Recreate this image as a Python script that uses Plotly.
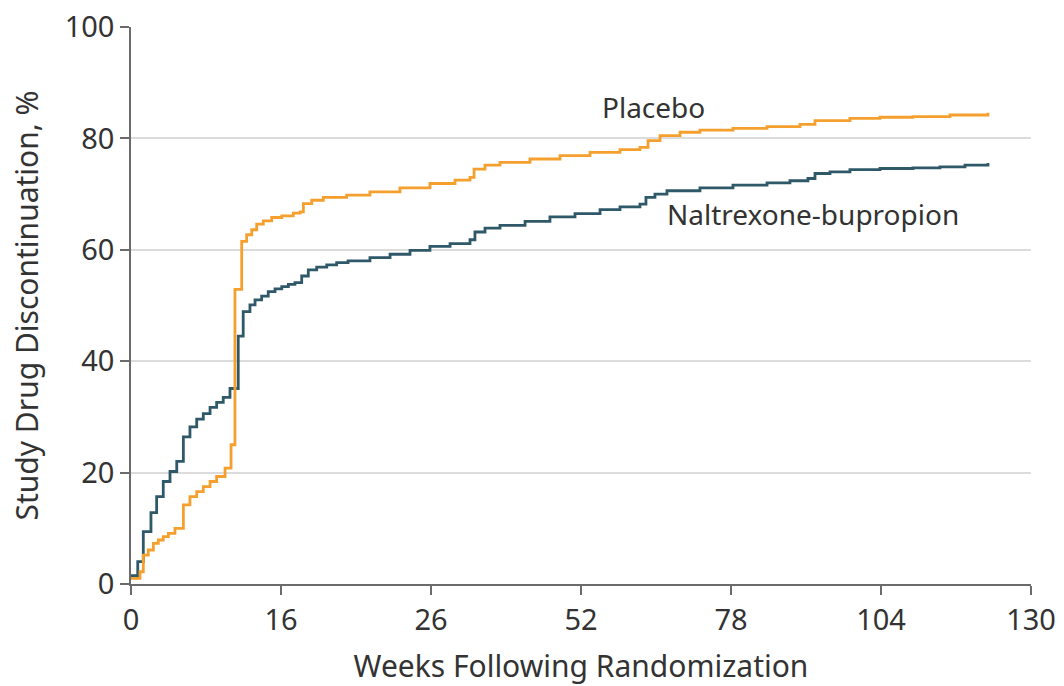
import plotly.graph_objects as go

# x positions are in axis-position units (tick index 0..6, evenly spaced ticks)
tick_pos = [0, 1, 2, 3, 4, 5, 6]
tick_labels = ["0", "16", "26", "52", "78", "104", "130"]
y_ticks = [0, 20, 40, 60, 80, 100]

nb_x = [0.0, 0.045, 0.082, 0.133, 0.171, 0.215, 0.26, 0.305, 0.349, 0.393, 0.438, 0.482,
        0.527, 0.571, 0.615, 0.66, 0.715, 0.748, 0.793, 0.827, 0.871, 0.915, 0.96, 1.005,
        1.049, 1.093, 1.138, 1.182, 1.238, 1.305, 1.371, 1.447, 1.593, 1.727, 1.86, 1.993,
        2.127, 2.26, 2.293, 2.36, 2.46, 2.627, 2.793, 2.96, 3.127, 3.26, 3.393, 3.433,
        3.493, 3.573, 3.793, 4.013, 4.24, 4.393, 4.513, 4.56, 4.66, 4.793, 4.993, 5.213,
        5.393, 5.56, 5.713]
nb_y = [1.5, 4.0, 9.4, 12.8, 15.7, 18.4, 20.2, 22.0, 26.4, 28.2, 29.6, 30.6,
        31.7, 32.6, 33.5, 35.1, 44.5, 48.9, 50.1, 51.0, 51.7, 52.5, 53.0, 53.4,
        53.8, 54.1, 55.3, 56.4, 56.9, 57.3, 57.7, 58.0, 58.6, 59.2, 59.9, 60.6,
        61.1, 61.8, 63.2, 63.9, 64.4, 65.1, 65.9, 66.5, 67.2, 67.7, 68.2, 69.4,
        70.0, 70.6, 71.1, 71.6, 72.0, 72.4, 72.8, 73.7, 74.0, 74.4, 74.6, 74.7,
        74.9, 75.2, 75.6]

pl_x = [0.0, 0.06, 0.082, 0.115, 0.149, 0.182, 0.215, 0.249, 0.293, 0.349, 0.393, 0.438,
        0.482, 0.527, 0.571, 0.627, 0.667, 0.693, 0.738, 0.771, 0.805, 0.838, 0.882, 0.938,
        1.005, 1.082, 1.127, 1.149, 1.205, 1.282, 1.438, 1.593, 1.793, 1.993, 2.16, 2.26,
        2.287, 2.36, 2.46, 2.66, 2.86, 3.06, 3.26, 3.393, 3.447, 3.527, 3.66, 3.793,
        4.013, 4.24, 4.46, 4.56, 4.793, 4.993, 5.213, 5.46, 5.713]
pl_y = [1.0, 2.2, 5.2, 6.1, 7.3, 7.9, 8.5, 9.1, 10.0, 14.2, 15.7, 16.6,
        17.5, 18.4, 19.3, 20.8, 25.0, 52.9, 61.5, 62.7, 63.6, 64.6, 65.2, 65.8,
        66.1, 66.6, 66.8, 68.3, 68.9, 69.4, 69.8, 70.4, 71.1, 71.9, 72.5, 73.0,
        74.5, 75.2, 75.7, 76.3, 76.9, 77.5, 78.0, 78.4, 79.6, 80.5, 81.1, 81.5,
        81.8, 82.1, 82.5, 83.2, 83.6, 83.8, 83.9, 84.2, 84.6]

ORANGE = "#F5A02E"
TEAL = "#2F5869"
FONT = "Noto Sans"
TXT = "#333333"

fig = go.Figure()
fig.add_trace(go.Scatter(x=nb_x, y=nb_y, mode="lines", line=dict(color=TEAL, width=2.8, shape="hv"),
                         name="Naltrexone-bupropion", showlegend=False))
fig.add_trace(go.Scatter(x=pl_x, y=pl_y, mode="lines", line=dict(color=ORANGE, width=2.8, shape="hv"),
                         name="Placebo", showlegend=False))

fig.add_annotation(x=3.48, y=85.7, text="Placebo", showarrow=False,
                   font=dict(family=FONT, size=28, color=TXT))
fig.add_annotation(x=4.547, y=66.5, text="Naltrexone-bupropion", showarrow=False,
                   font=dict(family=FONT, size=28, color=TXT))

fig.update_layout(
    width=1064, height=686,
    margin=dict(l=131, r=33, t=27, b=102),
    paper_bgcolor="white", plot_bgcolor="white",
    font=dict(family=FONT, size=28, color=TXT),
    xaxis=dict(range=[0, 6], tickvals=tick_pos, ticktext=tick_labels, automargin=False,
               showgrid=False, zeroline=False, showline=True, linecolor="#6b6b6b", linewidth=1.5,
               ticks="outside", ticklen=9, tickwidth=1.5, tickcolor="#6b6b6b",
               tickfont=dict(family=FONT, size=29, color=TXT),
               title=dict(text="Weeks Following Randomization", standoff=22,
                          font=dict(family=FONT, size=30, color=TXT))),
    yaxis=dict(range=[0, 100], tickvals=y_ticks, automargin=False,
               showgrid=True, gridcolor="#dcdcdc", gridwidth=1.5, zeroline=False,
               showline=True, linecolor="#6b6b6b", linewidth=1.5,
               ticks="outside", ticklen=9, tickwidth=1.5, tickcolor="#6b6b6b",
               tickfont=dict(family=FONT, size=29, color=TXT),
               title=dict(text="Study Drug Discontinuation, %", standoff=17,
                          font=dict(family=FONT, size=30, color=TXT))),
)

fig.write_html("out.html")
